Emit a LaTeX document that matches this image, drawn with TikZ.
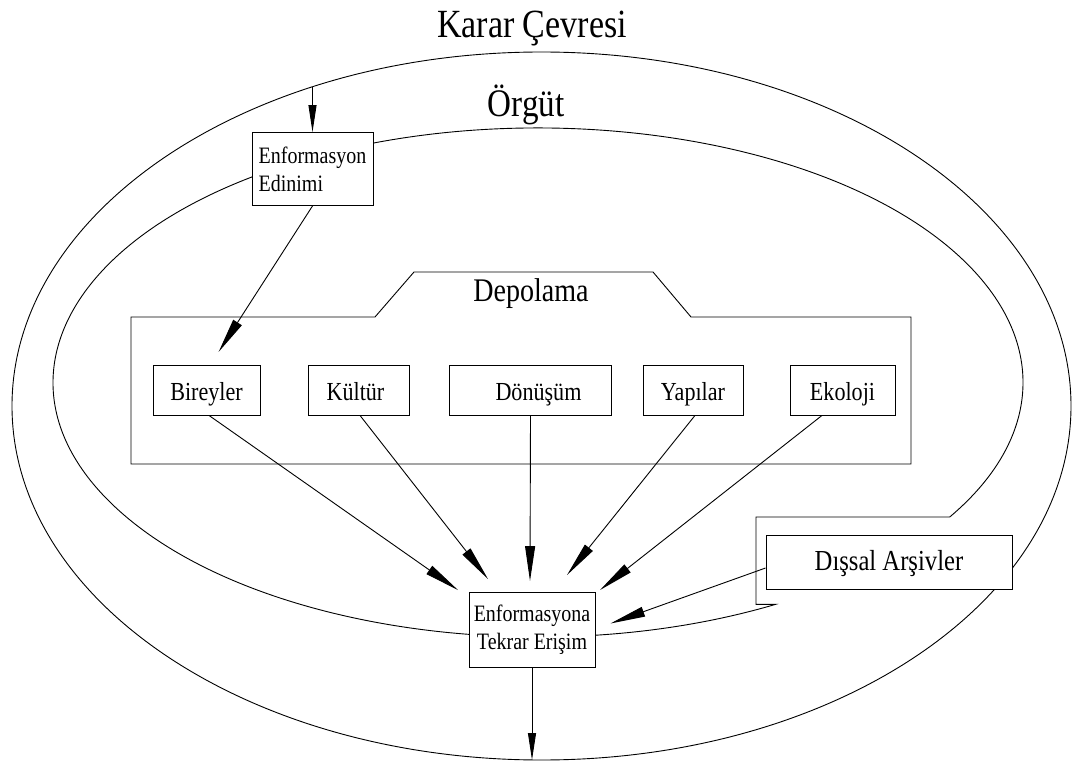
\documentclass[tikz,border=0pt]{standalone}
\usepackage{fontspec}
\setmainfont{Liberation Serif}[FakeStretch=0.85]
\usetikzlibrary{arrows.meta,calc,positioning}
\tikzset{%
	storebox/.style = {draw, fill=white, rectangle, inner sep=0pt, minimum height=50pt, text height=20pt, text depth=0pt, font=\fontsize{26}{30}\selectfont},
	stepbox/.style  = {draw, fill=white, rectangle, inner sep=0pt, align=center, font=\fontsize{23.5}{28}\selectfont},
	arrow/.style    = {-{Triangle[length=35pt,width=10pt]}},
	endarrow/.style = {-{Triangle[length=27pt,width=8pt]}},
}
\begin{document}
\begin{tikzpicture}[x=1pt,y=-1pt,line width=0.9pt]
	\useasboundingbox (0,0) rectangle (1072,762);
	% ellipses
	\draw (541.5,406) ellipse [x radius=529.5, y radius=354];
	\draw (949.8,517) -- (756,517) -- (756,604.4) -- (775.4,604.4) arc[start angle=60.7, end angle=391.9, x radius=485, y radius=254.5];
	\draw (131,464) -- (131,317) -- (375,317) -- (414,272) -- (653,272) -- (691,317) -- (911,317) -- (911,464) -- cycle;
	\node[anchor=base, inner sep=0pt, font=\fontsize{40}{40}\selectfont] (karar) at (532,38) {Karar Çevresi};
	\node[anchor=base, inner sep=0pt, font=\fontsize{39}{39}\selectfont] (orgut) at (526,117) {Örgüt};
	\node[anchor=base, inner sep=0pt, font=\fontsize{33}{33}\selectfont] (depo) at (531,302) {Depolama};
	% boxes
	\node[stepbox, align=left, minimum width=121pt, minimum height=73pt] (edinim) at (312.5,169) {Enformasyon\\Edinimi};
	\node[storebox, minimum width=107pt] (bireyler) at (206.5,390) {Bireyler};
	\node[storebox, minimum width=101pt] (kultur) at (358.5,390) {Kültür\hspace*{6pt}};
	\node[storebox, minimum width=162pt] (donusum) at (530.5,390) {\hspace*{16pt}Dönüşüm};
	\node[storebox, minimum width=100pt] (yapilar) at (693,390) {Yapılar};
	\node[storebox, minimum width=105pt] (ekoloji) at (842.5,390) {Ekoloji};
	\node[storebox, minimum width=246pt, minimum height=54pt, text height=17pt, font=\fontsize{29}{30}\selectfont] (dissal) at (889,562) {Dışsal Arşivler};
	\node[stepbox, minimum width=126pt, minimum height=75pt] (ete) at (532,630) {Enformasyona\\Tekrar Erişim};
	\coordinate (topin) at (312.5,87);
	\coordinate (botout) at (532,760);
	% arrows
	\draw[endarrow] (topin) -- (edinim.north);
	\draw[arrow, shorten >=15pt] (edinim.south) -- ([xshift=4pt]bireyler.north);
	\draw[arrow] ([xshift=2.5pt]bireyler.south) -- ($(ete.north)+(-74,-2)$);
	\draw[arrow] ([xshift=1.5pt]kultur.south) -- ($(ete.north)+(-44,-13)$);
	\draw[arrow] (donusum.south) -- ($(ete.north)+(-2,-11)$);
	\draw[arrow] ([xshift=2pt]yapilar.south) -- ($(ete.north)+(35,-17)$);
	\draw[arrow] ([xshift=-20.5pt]ekoloji.south) -- ($(ete.north)+(68,-2)$);
	\draw[arrow] ($(dissal.west)+(0,6)$) -- ($(ete.east)+(15,-6.5)$);
	\draw[endarrow] (ete.south) -- (botout);
\end{tikzpicture}
\end{document}
